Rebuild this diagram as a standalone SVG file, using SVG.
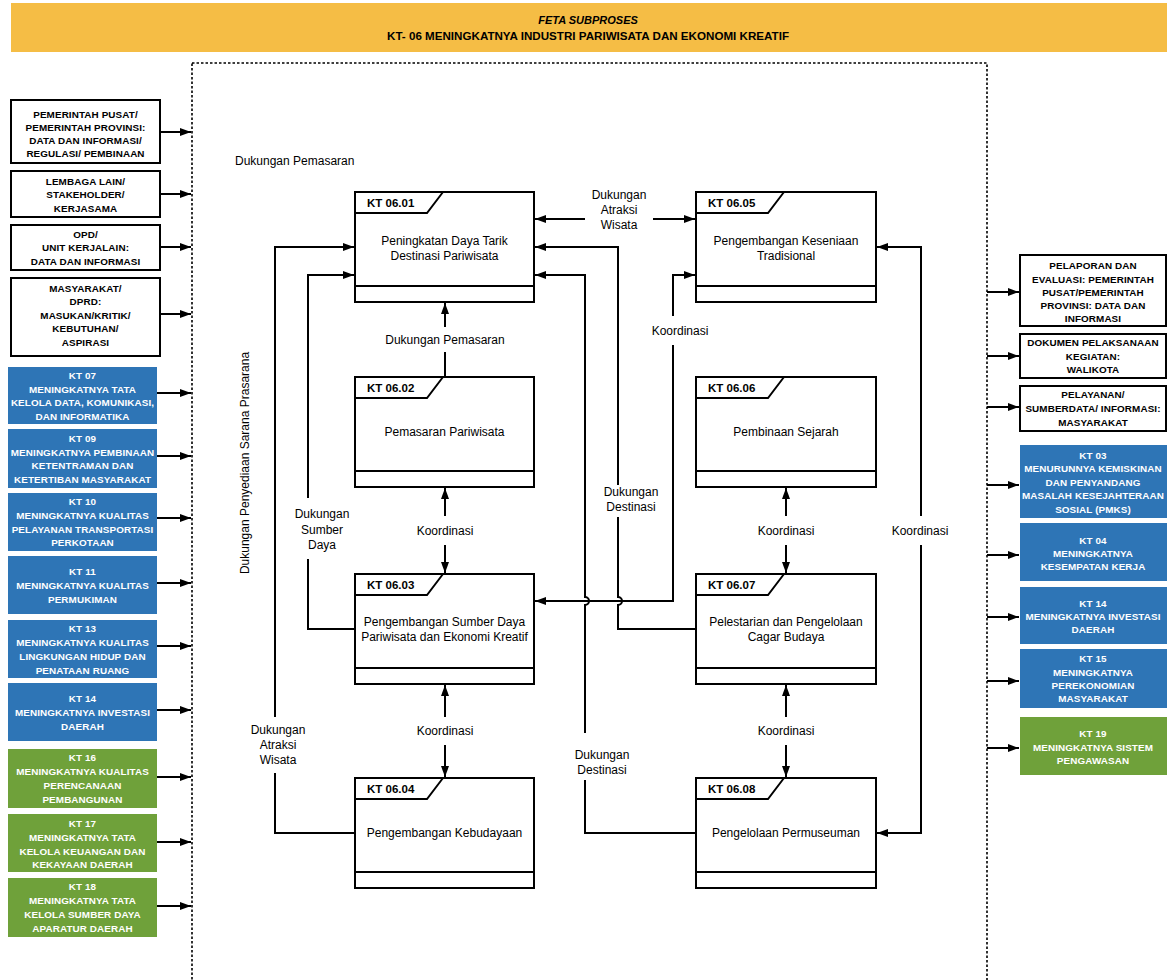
<svg xmlns="http://www.w3.org/2000/svg" width="1167" height="980" viewBox="0 0 1167 980">
<defs>
<marker id="ah" markerUnits="userSpaceOnUse" markerWidth="12" markerHeight="8" refX="11" refY="4" orient="auto">
<path d="M0,0 L11,4 L0,8 z" fill="#000"/>
</marker>
<style>
.hdr{font-family:"Liberation Sans",Arial,sans-serif;font-weight:bold;font-size:11px;fill:#000;text-anchor:middle}
.sb{font-family:"Liberation Sans",Arial,sans-serif;font-weight:bold;font-size:9.9px;letter-spacing:0.1px;text-anchor:middle;dominant-baseline:central}
.sbk{fill:#000}
.sbw{fill:#fff}
.wbox{fill:#fff;stroke:#000;stroke-width:2}
.blue{fill:#2E75B6}
.green{fill:#6FA13A}
.nbox{fill:#fff;stroke:#000;stroke-width:2}
.nl{fill:none;stroke:#000;stroke-width:2}
.kt{font-family:"Liberation Sans",Arial,sans-serif;font-weight:bold;font-size:11.5px;fill:#000}
.nt{font-family:"Liberation Sans",Arial,sans-serif;font-size:12px;fill:#000;text-anchor:middle;dominant-baseline:central}
.lb{font-family:"Liberation Sans",Arial,sans-serif;font-size:12px;fill:#000;text-anchor:middle;dominant-baseline:central}
.c{fill:none;stroke:#000;stroke-width:2}
.ca{fill:none;stroke:#000;stroke-width:2;marker-end:url(#ah)}
</style>
</defs>
<rect width="1167" height="980" fill="#fff"/>

<g id="header">
<rect x="11" y="3" width="1156" height="49" fill="#F5BD45"/>
<text class="hdr" x="588" y="24" font-style="italic">FETA SUBPROSES</text>
<text class="hdr" x="588" y="40" textLength="402" lengthAdjust="spacingAndGlyphs">KT- 06 MENINGKATNYA INDUSTRI PARIWISATA DAN EKONOMI KREATIF</text>
</g>

<g id="frame">
<rect x="192" y="63" width="795" height="930" fill="none" stroke="#000" stroke-width="1.6" stroke-dasharray="2.5,2"/>
</g>

<g id="inputs">
<g id="in-pemerintah"><rect class="wbox" x="11" y="100" width="149" height="63"/>
<text class="sb sbk" x="85.5"><tspan x="85.5" y="114">PEMERINTAH PUSAT/</tspan><tspan x="85.5" y="127">PEMERINTAH PROVINSI:</tspan><tspan x="85.5" y="140">DATA DAN INFORMASI/</tspan><tspan x="85.5" y="153">REGULASI/ PEMBINAAN</tspan></text></g>
<g id="in-lembaga"><rect class="wbox" x="11" y="171" width="149" height="46"/>
<text class="sb sbk"><tspan x="85.5" y="181">LEMBAGA LAIN/</tspan><tspan x="85.5" y="194">STAKEHOLDER/</tspan><tspan x="85.5" y="208">KERJASAMA</tspan></text></g>
<g id="in-opd"><rect class="wbox" x="11" y="225" width="149" height="45"/>
<text class="sb sbk"><tspan x="85.5" y="234">OPD/</tspan><tspan x="85.5" y="247">UNIT KERJALAIN:</tspan><tspan x="85.5" y="261">DATA DAN INFORMASI</tspan></text></g>
<g id="in-masyarakat"><rect class="wbox" x="11" y="278" width="149" height="78"/>
<text class="sb sbk"><tspan x="85.5" y="288">MASYARAKAT/</tspan><tspan x="85.5" y="301">DPRD:</tspan><tspan x="85.5" y="315">MASUKAN/KRITIK/</tspan><tspan x="85.5" y="328">KEBUTUHAN/</tspan><tspan x="85.5" y="342">ASPIRASI</tspan></text></g>
<g id="in-kt07"><rect class="blue" x="8" y="367" width="149" height="57"/>
<text class="sb sbw"><tspan x="82.5" y="375">KT 07</tspan><tspan x="82.5" y="389">MENINGKATNYA TATA</tspan><tspan x="82.5" y="402">KELOLA DATA, KOMUNIKASI,</tspan><tspan x="82.5" y="416">DAN INFORMATIKA</tspan></text></g>
<g id="in-kt09"><rect class="blue" x="8" y="429" width="149" height="59"/>
<text class="sb sbw"><tspan x="82.5" y="438">KT 09</tspan><tspan x="82.5" y="452">MENINGKATNYA PEMBINAAN</tspan><tspan x="82.5" y="465">KETENTRAMAN DAN</tspan><tspan x="82.5" y="479">KETERTIBAN MASYARAKAT</tspan></text></g>
<g id="in-kt10"><rect class="blue" x="8" y="493" width="149" height="58"/>
<text class="sb sbw"><tspan x="82.5" y="501">KT 10</tspan><tspan x="82.5" y="515">MENINGKATNYA KUALITAS</tspan><tspan x="82.5" y="529">PELAYANAN TRANSPORTASI</tspan><tspan x="82.5" y="542">PERKOTAAN</tspan></text></g>
<g id="in-kt11"><rect class="blue" x="8" y="556" width="149" height="58"/>
<text class="sb sbw"><tspan x="82.5" y="571">KT 11</tspan><tspan x="82.5" y="585">MENINGKATNYA KUALITAS</tspan><tspan x="82.5" y="599">PERMUKIMAN</tspan></text></g>
<g id="in-kt13"><rect class="blue" x="8" y="620" width="149" height="58"/>
<text class="sb sbw"><tspan x="82.5" y="628">KT 13</tspan><tspan x="82.5" y="642">MENINGKATNYA KUALITAS</tspan><tspan x="82.5" y="656">LINGKUNGAN HIDUP DAN</tspan><tspan x="82.5" y="670">PENATAAN RUANG</tspan></text></g>
<g id="in-kt14"><rect class="blue" x="8" y="683" width="149" height="58"/>
<text class="sb sbw"><tspan x="82.5" y="698">KT 14</tspan><tspan x="82.5" y="712">MENINGKATNYA INVESTASI</tspan><tspan x="82.5" y="726">DAERAH</tspan></text></g>
<g id="in-kt16"><rect class="green" x="8" y="749" width="149" height="59"/>
<text class="sb sbw"><tspan x="82.5" y="757">KT 16</tspan><tspan x="82.5" y="771">MENINGKATNYA KUALITAS</tspan><tspan x="82.5" y="785">PERENCANAAN</tspan><tspan x="82.5" y="799">PEMBANGUNAN</tspan></text></g>
<g id="in-kt17"><rect class="green" x="8" y="814" width="149" height="58"/>
<text class="sb sbw"><tspan x="82.5" y="823">KT 17</tspan><tspan x="82.5" y="837">MENINGKATNYA TATA</tspan><tspan x="82.5" y="851">KELOLA KEUANGAN DAN</tspan><tspan x="82.5" y="864">KEKAYAAN DAERAH</tspan></text></g>
<g id="in-kt18"><rect class="green" x="8" y="878" width="149" height="59"/>
<text class="sb sbw"><tspan x="82.5" y="886">KT 18</tspan><tspan x="82.5" y="900">MENINGKATNYA TATA</tspan><tspan x="82.5" y="914">KELOLA SUMBER DAYA</tspan><tspan x="82.5" y="928">APARATUR DAERAH</tspan></text></g>
</g>

<g id="outputs">
<g id="out-pelaporan"><rect class="wbox" x="1020" y="255" width="146" height="71"/>
<text class="sb sbk"><tspan x="1093" y="265">PELAPORAN DAN</tspan><tspan x="1093" y="279">EVALUASI: PEMERINTAH</tspan><tspan x="1093" y="292">PUSAT/PEMERINTAH</tspan><tspan x="1093" y="305">PROVINSI: DATA DAN</tspan><tspan x="1093" y="318">INFORMASI</tspan></text></g>
<g id="out-dokumen"><rect class="wbox" x="1020" y="334" width="146" height="44"/>
<text class="sb sbk"><tspan x="1093" y="342">DOKUMEN PELAKSANAAN</tspan><tspan x="1093" y="356">KEGIATAN:</tspan><tspan x="1093" y="369">WALIKOTA</tspan></text></g>
<g id="out-pelayanan"><rect class="wbox" x="1020" y="386" width="146" height="45"/>
<text class="sb sbk"><tspan x="1093" y="394">PELAYANAN/</tspan><tspan x="1093" y="408">SUMBERDATA/ INFORMASI:</tspan><tspan x="1093" y="422">MASYARAKAT</tspan></text></g>
<g id="out-kt03"><rect class="blue" x="1020" y="445" width="147" height="73"/>
<text class="sb sbw"><tspan x="1093" y="455">KT 03</tspan><tspan x="1093" y="468">MENURUNNYA KEMISKINAN</tspan><tspan x="1093" y="482">DAN PENYANDANG</tspan><tspan x="1093" y="495">MASALAH KESEJAHTERAAN</tspan><tspan x="1093" y="509">SOSIAL (PMKS)</tspan></text></g>
<g id="out-kt04"><rect class="blue" x="1020" y="523" width="147" height="58"/>
<text class="sb sbw"><tspan x="1093" y="540">KT 04</tspan><tspan x="1093" y="553">MENINGKATNYA</tspan><tspan x="1093" y="566">KESEMPATAN KERJA</tspan></text></g>
<g id="out-kt14"><rect class="blue" x="1020" y="587" width="147" height="57"/>
<text class="sb sbw"><tspan x="1093" y="603">KT 14</tspan><tspan x="1093" y="616">MENINGKATNYA INVESTASI</tspan><tspan x="1093" y="629">DAERAH</tspan></text></g>
<g id="out-kt15"><rect class="blue" x="1020" y="649" width="147" height="59"/>
<text class="sb sbw"><tspan x="1093" y="658">KT 15</tspan><tspan x="1093" y="672">MENINGKATNYA</tspan><tspan x="1093" y="685">PEREKONOMIAN</tspan><tspan x="1093" y="698">MASYARAKAT</tspan></text></g>
<g id="out-kt19"><rect class="green" x="1020" y="717" width="147" height="58"/>
<text class="sb sbw"><tspan x="1093" y="733">KT 19</tspan><tspan x="1093" y="747">MENINGKATNYA SISTEM</tspan><tspan x="1093" y="760">PENGAWASAN</tspan></text></g>
</g>

<g id="n0601"><rect class="nbox" x="355" y="192" width="179" height="110"/>
<path class="nl" d="M355,213 H427 L443,192 M355,286 H534"/>
<text class="kt" x="367" y="207">KT 06.01</text>
<text class="nt"><tspan x="444.5" y="241">Peningkatan Daya Tarik</tspan><tspan x="444.5" y="256">Destinasi Pariwisata</tspan></text></g>
<g id="n0602"><rect class="nbox" x="355" y="377" width="179" height="110"/>
<path class="nl" d="M355,398 H427 L443,377 M355,471 H534"/>
<text class="kt" x="367" y="392">KT 06.02</text>
<text class="nt" x="444.5" y="432">Pemasaran Pariwisata</text></g>
<g id="n0603"><rect class="nbox" x="355" y="574" width="179" height="110"/>
<path class="nl" d="M355,595 H427 L443,574 M355,668 H534"/>
<text class="kt" x="367" y="589">KT 06.03</text>
<text class="nt"><tspan x="444.5" y="622">Pengembangan Sumber Daya</tspan><tspan x="444.5" y="637">Pariwisata dan Ekonomi Kreatif</tspan></text></g>
<g id="n0604"><rect class="nbox" x="355" y="778" width="179" height="110"/>
<path class="nl" d="M355,799 H427 L443,778 M355,872 H534"/>
<text class="kt" x="367" y="793">KT 06.04</text>
<text class="nt" x="444.5" y="833">Pengembangan Kebudayaan</text></g>
<g id="n0605"><rect class="nbox" x="696" y="192" width="180" height="110"/>
<path class="nl" d="M696,213 H768 L784,192 M696,286 H876"/>
<text class="kt" x="708" y="207">KT 06.05</text>
<text class="nt"><tspan x="786" y="241">Pengembangan Keseniaan</tspan><tspan x="786" y="256">Tradisional</tspan></text></g>
<g id="n0606"><rect class="nbox" x="696" y="377" width="180" height="110"/>
<path class="nl" d="M696,398 H768 L784,377 M696,471 H876"/>
<text class="kt" x="708" y="392">KT 06.06</text>
<text class="nt" x="786" y="432">Pembinaan Sejarah</text></g>
<g id="n0607"><rect class="nbox" x="696" y="574" width="180" height="110"/>
<path class="nl" d="M696,595 H768 L784,574 M696,668 H876"/>
<text class="kt" x="708" y="589">KT 06.07</text>
<text class="nt"><tspan x="786" y="622">Pelestarian dan Pengelolaan</tspan><tspan x="786" y="637">Cagar Budaya</tspan></text></g>
<g id="n0608"><rect class="nbox" x="696" y="778" width="180" height="110"/>
<path class="nl" d="M696,799 H768 L784,778 M696,872 H876"/>
<text class="kt" x="708" y="793">KT 06.08</text>
<text class="nt" x="786" y="833">Pengelolaan Permuseuman</text></g>

<g id="connectors">
<path class="ca" d="M160,132 H191"/>
<path class="ca" d="M160,194 H191"/>
<path class="ca" d="M160,247 H191"/>
<path class="ca" d="M160,314 H191"/>
<path class="ca" d="M157,393 H191"/>
<path class="ca" d="M157,456 H191"/>
<path class="ca" d="M157,518 H191"/>
<path class="ca" d="M157,583 H191"/>
<path class="ca" d="M157,646 H191"/>
<path class="ca" d="M157,710 H191"/>
<path class="ca" d="M157,777 H191"/>
<path class="ca" d="M157,842 H191"/>
<path class="ca" d="M157,906 H191"/>
<path class="ca" d="M987,292 H1019"/>
<path class="ca" d="M987,356 H1019"/>
<path class="ca" d="M987,407 H1019"/>
<path class="ca" d="M987,485 H1019"/>
<path class="ca" d="M987,555 H1019"/>
<path class="ca" d="M987,617 H1019"/>
<path class="ca" d="M987,681 H1019"/>
<path class="ca" d="M987,748 H1019"/>

<path class="c" d="M355,833 H275 V773"/>
<path class="ca" d="M275,717 V247 H354"/>
<path class="c" d="M355,629 H308 V559"/>
<path class="ca" d="M308,498 V275 H354"/>
<path class="c" d="M445,377 V352"/>
<path class="ca" d="M445,327 V303"/>
<path class="ca" d="M585,219 H535"/>
<path class="ca" d="M653,219 H695"/>
<path class="c" d="M696,629 H618 V605 A4,4 0 0 0 618,597 V517"/>
<path class="ca" d="M618,485 V247 H535"/>
<path class="c" d="M696,833 H585 V780"/>
<path class="ca" d="M585,733 V605 A4,4 0 0 0 585,597 V275 H535"/>
<path class="ca" d="M673,345 V601 H535"/>
<path class="ca" d="M673,316 V275 H695"/>
<path class="ca" d="M445,516 V488"/>
<path class="ca" d="M445,545 V573"/>
<path class="ca" d="M445,717 V685"/>
<path class="ca" d="M445,745 V777"/>
<path class="ca" d="M786,516 V488"/>
<path class="ca" d="M786,545 V573"/>
<path class="ca" d="M786,717 V685"/>
<path class="ca" d="M786,745 V777"/>
<path class="ca" d="M921,516 V247 H877"/>
<path class="ca" d="M921,545 V833 H877"/>
</g>

<g id="labels">
<text class="lb" x="235" y="161" style="text-anchor:start">Dukungan Pemasaran</text>
<text class="lb" x="445" y="340">Dukungan Pemasaran</text>
<text class="lb"><tspan x="619" y="195">Dukungan</tspan><tspan x="619" y="210">Atraksi</tspan><tspan x="619" y="225">Wisata</tspan></text>
<text class="lb" x="680" y="331">Koordinasi</text>
<text class="lb"><tspan x="322" y="514">Dukungan</tspan><tspan x="322" y="530">Sumber</tspan><tspan x="322" y="545">Daya</tspan></text>
<text class="lb" x="445" y="531">Koordinasi</text>
<text class="lb" x="445" y="731">Koordinasi</text>
<text class="lb"><tspan x="278" y="730">Dukungan</tspan><tspan x="278" y="745">Atraksi</tspan><tspan x="278" y="760">Wisata</tspan></text>
<text class="lb"><tspan x="631" y="492">Dukungan</tspan><tspan x="631" y="507">Destinasi</tspan></text>
<text class="lb"><tspan x="602" y="755">Dukungan</tspan><tspan x="602" y="770">Destinasi</tspan></text>
<text class="lb" x="786" y="531">Koordinasi</text>
<text class="lb" x="786" y="731">Koordinasi</text>
<text class="lb" x="920" y="531">Koordinasi</text>
<text class="lb" transform="translate(245,463) rotate(-90)" x="0" y="0">Dukungan Penyediaan Sarana Prasarana</text>
</g>
</svg>
